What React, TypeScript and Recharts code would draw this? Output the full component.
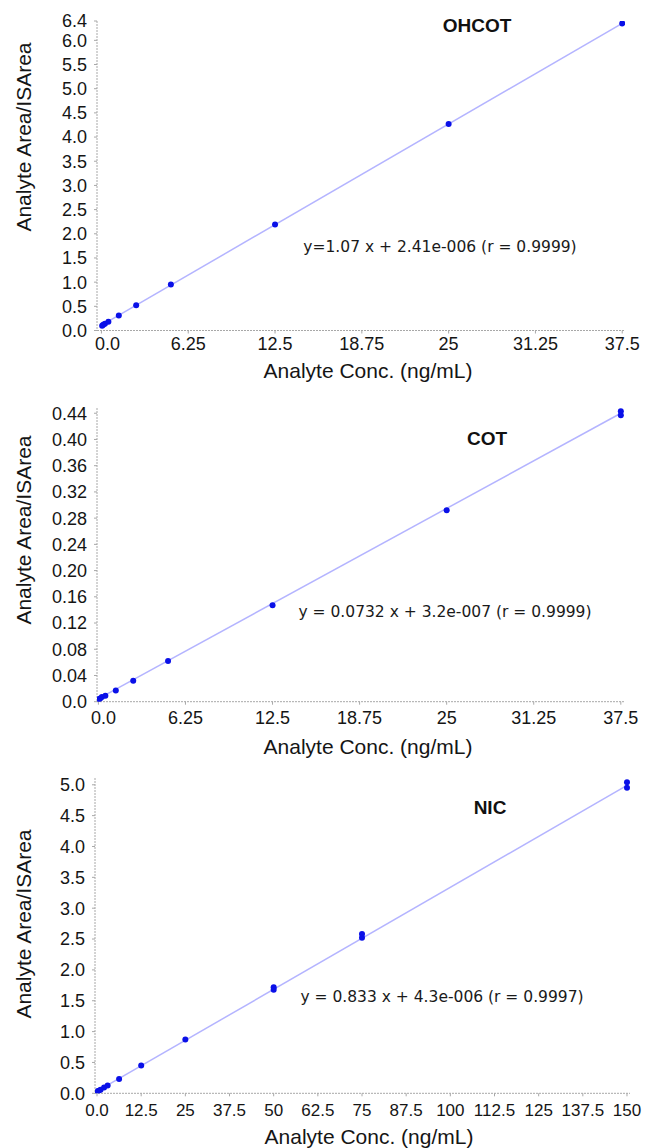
import React from 'react';
import { ScatterChart, Scatter, XAxis, YAxis } from 'recharts';

const FONT = '"Liberation Sans", Arial, Helvetica, sans-serif';
const EQ_FONT = '"DejaVu Sans", Verdana, sans-serif';
const DOT = '#0a10e8';
const FIT = '#b4b4ff';
const AXIS = '#a8a8a8';

// ---------- OHCOT ----------
const ohcotConc = [0.05, 0.125, 0.25, 0.5, 1.25, 2.5, 5, 12.5, 25, 37.5];
const ohcotRatio = [0.10, 0.12, 0.14, 0.18, 0.31, 0.52, 0.95, 2.19, 4.27, 6.35];
const ohcotFitConc = [-0.1, 37.5];
const ohcotFitRatio = [0.09, 6.35];
const ohcotYTicks = [0, 0.5, 1, 1.5, 2, 2.5, 3, 3.5, 4, 4.5, 5, 5.5, 6, 6.4];

// ---------- COT ----------
const cotConc = [0.05, 0.125, 0.25, 0.5, 1.25, 2.5, 5, 12.5, 25, 37.5, 37.5];
const cotRatio = [0.004, 0.005, 0.007, 0.009, 0.017, 0.032, 0.062, 0.147, 0.292, 0.437, 0.443];
const cotFitConc = [-0.05, 37.5];
const cotFitRatio = [0.004, 0.44];
const cotYTicks = [0, 0.04, 0.08, 0.12, 0.16, 0.2, 0.24, 0.28, 0.32, 0.36, 0.4, 0.44];

// ---------- NIC ----------
const nicConc = [0.2, 0.5, 1, 2, 3, 6.25, 12.5, 25, 50, 50, 75, 75, 150, 150];
const nicRatio = [0.033, 0.043, 0.059, 0.092, 0.125, 0.23, 0.45, 0.87, 1.68, 1.72, 2.52, 2.58, 4.95, 5.04];
const nicFitConc = [-0.2, 150];
const nicFitRatio = [0.026, 4.99];
const nicYTicks = [0, 0.5, 1, 1.5, 2, 2.5, 3, 3.5, 4, 4.5, 5];

// ---------- x ticks ----------
const conc37Ticks = [0, 6.25, 12.5, 18.75, 25, 31.25, 37.5];
const conc37Labels = ['0.0', '6.25', '12.5', '18.75', '25', '31.25', '37.5'];
const conc150Ticks = [0, 12.5, 25, 37.5, 50, 62.5, 75, 87.5, 100, 112.5, 125, 137.5, 150];
const conc150Labels = ['0.0', '12.5', '25', '37.5', '50', '62.5', '75', '87.5', '100', '112.5', '125', '137.5', '150'];

const xTitle = 'Analyte Conc. (ng/mL)';
const yTitle = 'Analyte Area/ISArea';

type PanelProps = {
  height: number;
  margin: { top: number; right: number; bottom: number; left: number };
  yAxisWidth: number;
  xAxisHeight: number;
  xTickMargin: number;
  xTickFont: number;
  zeroShift: number;
  xDomain: [number, number];
  xTicks: number[];
  xLabels: string[];
  yDomain: [number, number];
  yTicks: number[];
  yFmt: (v: number) => string;
  xs: number[];
  ys: number[];
  fitX: number[];
  fitY: number[];
  name: string;
  nameX: number;
  nameY: number;
  eq: string;
  eqX: number;
  eqY: number;
  yTitleX: number;
  yTitleY: number;
  xTitleX: number;
  xTitleY: number;
};

function Panel(p: PanelProps) {
  const pts = p.xs.map((x, i) => ({ x, y: p.ys[i] }));
  const fit = p.fitX.map((x, i) => ({ x, y: p.fitY[i] }));

  const XTick = (t: any) => {
    const v = t.payload.value;
    const idx = p.xTicks.indexOf(v);
    const txt = idx >= 0 ? p.xLabels[idx] : String(v);
    return (
      <text
        x={t.x + (v === 0 ? p.zeroShift : 0)}
        y={t.y}
        dy="0.71em"
        textAnchor="middle"
        fontSize={p.xTickFont}
        fontFamily={FONT}
        fill="#151515"
      >
        {txt}
      </text>
    );
  };

  const Texts = () => (
    <g>
      <text
        x={p.xTitleX}
        y={p.xTitleY}
        textAnchor="middle"
        dominantBaseline="central"
        fontSize={21}
        fontFamily={FONT}
        fill="#151515"
      >
        {xTitle}
      </text>
      <text
        x={p.yTitleX}
        y={p.yTitleY}
        transform={`rotate(-90 ${p.yTitleX} ${p.yTitleY})`}
        textAnchor="middle"
        dominantBaseline="central"
        fontSize={21}
        fontFamily={FONT}
        fill="#151515"
      >
        {yTitle}
      </text>
      <text
        x={p.nameX}
        y={p.nameY}
        textAnchor="middle"
        dominantBaseline="central"
        fontSize={19}
        fontWeight="bold"
        fontFamily={FONT}
        fill="#111"
      >
        {p.name}
      </text>
      <text
        x={p.eqX}
        y={p.eqY}
        textAnchor="middle"
        dominantBaseline="central"
        fontSize={15.5}
        fontFamily={EQ_FONT}
        fill="#1a1a1a"
      >
        {p.eq}
      </text>
    </g>
  );

  return (
    <ScatterChart width={648} height={p.height} margin={p.margin}>
      <XAxis
        type="number"
        dataKey="x"
        domain={p.xDomain}
        ticks={p.xTicks}
        interval={0}
        allowDataOverflow
        height={p.xAxisHeight}
        tickSize={3}
        tickMargin={p.xTickMargin}
        axisLine={{ stroke: AXIS, strokeDasharray: '2 1' }}
        tickLine={{ stroke: AXIS }}
        tick={XTick}
        label={Texts}
      />
      <YAxis
        type="number"
        dataKey="y"
        domain={p.yDomain}
        ticks={p.yTicks}
        interval={0}
        allowDataOverflow
        width={p.yAxisWidth}
        tickSize={3}
        tickMargin={7}
        tickFormatter={p.yFmt}
        axisLine={{ stroke: AXIS, strokeDasharray: '2 1' }}
        tickLine={{ stroke: AXIS }}
        tick={{ fontSize: 18, fontFamily: FONT, fill: '#151515' }}
      />
      <Scatter
        data={fit}
        line={{ stroke: FIT, strokeWidth: 1.5 }}
        shape={() => <g />}
        legendType="none"
        isAnimationActive={false}
      />
      <Scatter
        data={pts}
        fill={DOT}
        shape={(s: any) => <circle cx={s.cx} cy={s.cy} r={3} fill={DOT} />}
        legendType="none"
        isAnimationActive={false}
      />
    </ScatterChart>
  );
}

const fmt1 = (v: number) => v.toFixed(1);
const fmt2 = (v: number) => (v === 0 ? '0.0' : v.toFixed(2));

export default function App() {
  return (
    <div
      style={{
        position: 'absolute',
        left: 0,
        top: 0,
        width: 648,
        height: 1148,
        background: '#fff',
        overflow: 'hidden',
      }}
    >
      <div style={{ position: 'absolute', left: 0, top: 0 }}>
        <Panel
          height={392}
          margin={{ top: 21, right: 23, bottom: 0, left: 0 }}
          yAxisWidth={97}
          xAxisHeight={61.5}
          xTickMargin={4}
          xTickFont={18}
          zeroShift={6}
          xDomain={[-0.32, 37.7]}
          xTicks={conc37Ticks}
          xLabels={conc37Labels}
          yDomain={[0, 6.4]}
          yTicks={ohcotYTicks}
          yFmt={fmt1}
          xs={ohcotConc}
          ys={ohcotRatio}
          fitX={ohcotFitConc}
          fitY={ohcotFitRatio}
          name="OHCOT"
          nameX={477}
          nameY={25}
          eq="y=1.07 x + 2.41e-006 (r = 0.9999)"
          eqX={440}
          eqY={247}
          yTitleX={23}
          yTitleY={137}
          xTitleX={368}
          xTitleY={370}
        />
      </div>
      <div style={{ position: 'absolute', left: 0, top: 380 }}>
        <Panel
          height={392}
          margin={{ top: 28, right: 23, bottom: 0, left: 0 }}
          yAxisWidth={97}
          xAxisHeight={70.3}
          xTickMargin={6.6}
          xTickFont={18}
          zeroShift={5}
          xDomain={[-0.1, 37.8]}
          xTicks={conc37Ticks}
          xLabels={conc37Labels}
          yDomain={[0, 0.448]}
          yTicks={cotYTicks}
          yFmt={fmt2}
          xs={cotConc}
          ys={cotRatio}
          fitX={cotFitConc}
          fitY={cotFitRatio}
          name="COT"
          nameX={487}
          nameY={58}
          eq="y = 0.0732 x + 3.2e-007 (r = 0.9999)"
          eqX={445}
          eqY={232}
          yTitleX={23}
          yTitleY={150}
          xTitleX={368}
          xTitleY={366}
        />
      </div>
      <div style={{ position: 'absolute', left: 0, top: 760 }}>
        <Panel
          height={388}
          margin={{ top: 18, right: 18, bottom: 0, left: 0 }}
          yAxisWidth={95}
          xAxisHeight={54.7}
          xTickMargin={7.3}
          xTickFont={17}
          zeroShift={0}
          xDomain={[-0.57, 150.85]}
          xTicks={conc150Ticks}
          xLabels={conc150Labels}
          yDomain={[0, 5.11]}
          yTicks={nicYTicks}
          yFmt={fmt1}
          xs={nicConc}
          ys={nicRatio}
          fitX={nicFitConc}
          fitY={nicFitRatio}
          name="NIC"
          nameX={490}
          nameY={47}
          eq="y = 0.833 x + 4.3e-006 (r = 0.9997)"
          eqX={442}
          eqY={237}
          yTitleX={23}
          yTitleY={164}
          xTitleX={369}
          xTitleY={376}
        />
      </div>
    </div>
  );
}
